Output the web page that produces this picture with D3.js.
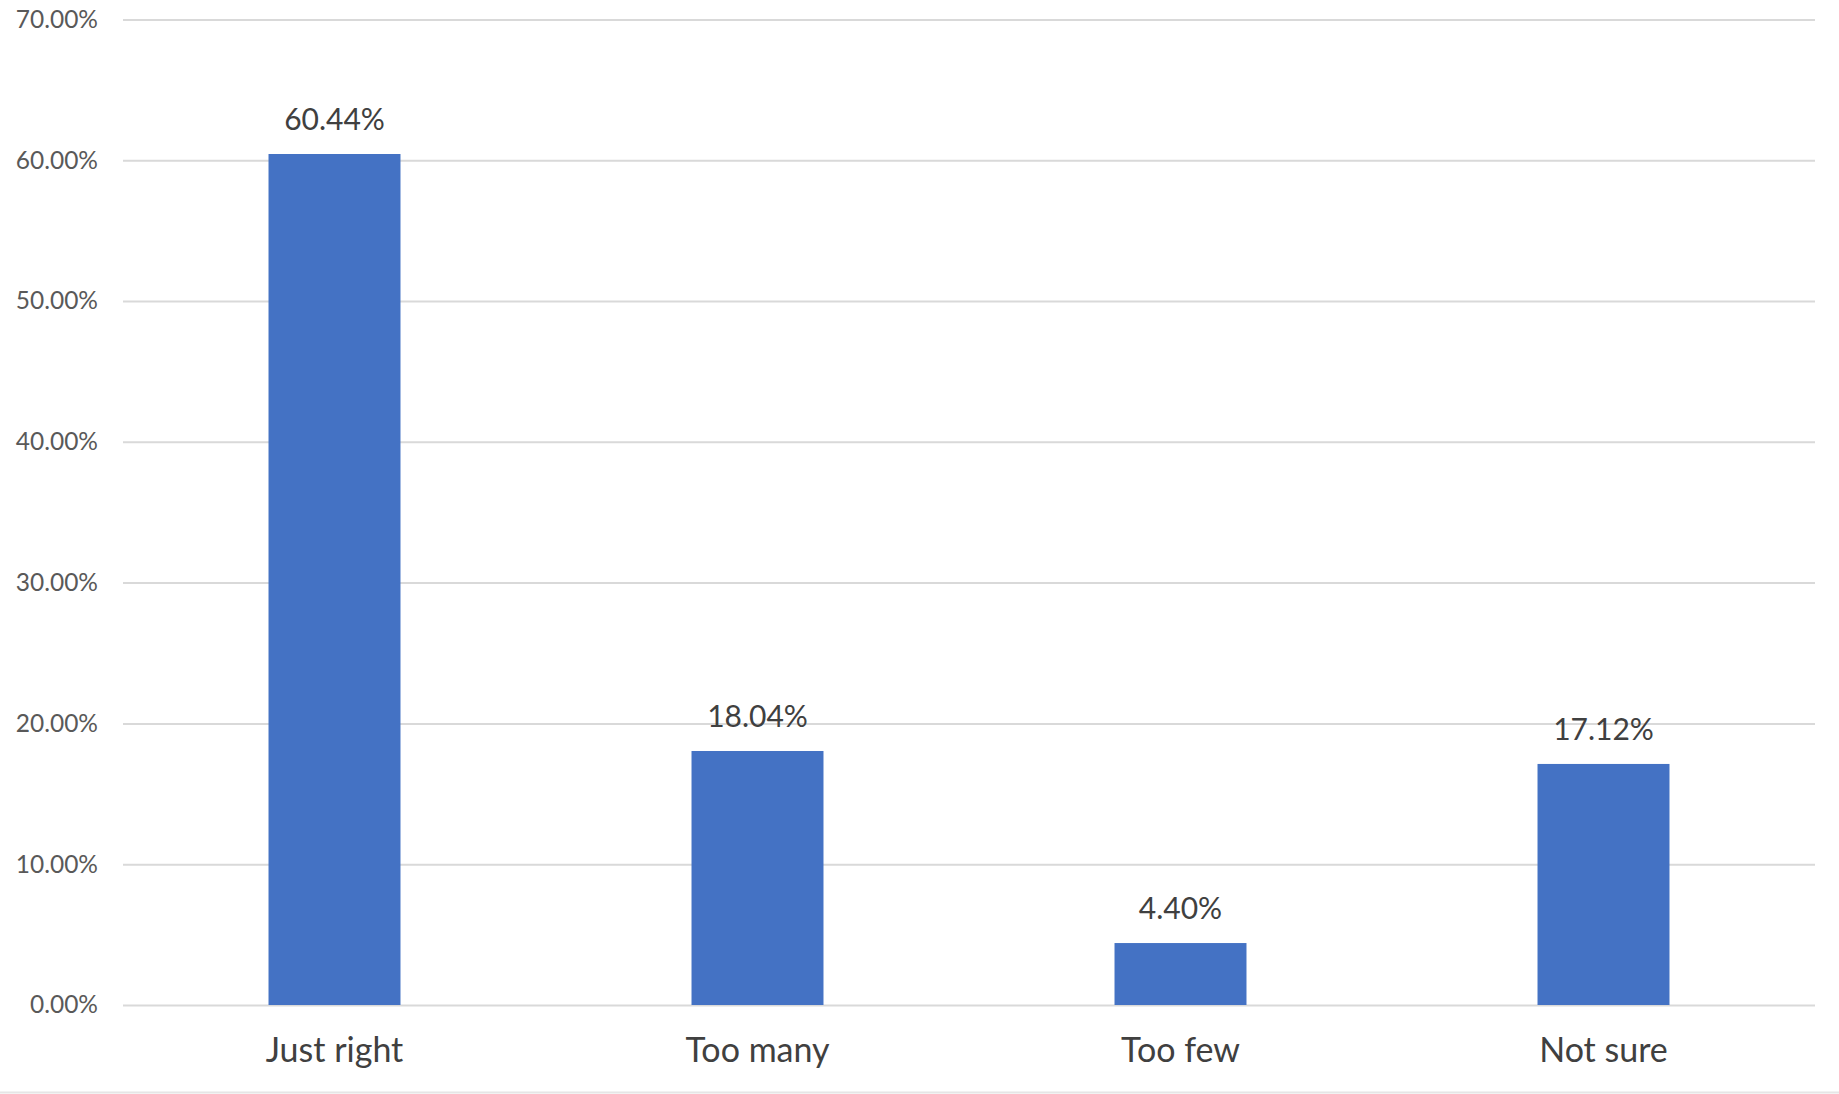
<!DOCTYPE html>
<html><head><meta charset="utf-8">
<script src="https://cdn.jsdelivr.net/npm/d3@7"></script>
<style>body{margin:0;background:#fff}svg{display:block}</style>
</head><body>
<script>
const categories = ["Just right", "Too many", "Too few", "Not sure"];
const values = [60.44, 18.04, 4.40, 17.12];
const yTicks = [0, 10, 20, 30, 40, 50, 60, 70];

const W = 1839, H = 1094;
const m = {left: 123, right: 24, top: 19.4, bottom: 89};
const svg = d3.select("body").append("svg").attr("width", W).attr("height", H);

const x = d3.scaleBand().domain(categories).range([m.left, W - m.right]).paddingInner(0.688).paddingOuter(0.344);
const y = d3.scaleLinear().domain([0, 70]).range([H - m.bottom, m.top]);

const yAxis = svg.append("g").attr("transform", `translate(${m.left},0)`)
  .call(d3.axisLeft(y).tickValues(yTicks).tickSize(-(W - m.left - m.right)).tickPadding(25).tickFormat(d => d.toFixed(2) + "%"));
yAxis.select(".domain").remove();
yAxis.selectAll("line").attr("stroke", "#d9d9d9").attr("stroke-width", 2);
yAxis.selectAll("text").attr("fill", "#595959").style("font-family", "Lato, sans-serif").style("font-size", "24.5px");

svg.selectAll("rect.bar").data(values).join("rect").attr("class", "bar")
  .attr("x", (d, i) => x(categories[i])).attr("width", x.bandwidth())
  .attr("y", d => y(d)).attr("height", d => y(0) - y(d)).attr("fill", "#4472c4");

svg.selectAll("text.val").data(values).join("text").attr("class", "val")
  .attr("x", (d, i) => x(categories[i]) + x.bandwidth() / 2).attr("y", d => y(d) - 24)
  .attr("text-anchor", "middle").attr("fill", "#404040")
  .style("font-family", "Lato, sans-serif").style("font-size", "30px")
  .text(d => d.toFixed(2) + "%");

const xAxis = svg.append("g").attr("transform", `translate(0,${y(0)})`)
  .call(d3.axisBottom(x).tickSize(0).tickPadding(33));
xAxis.select(".domain").remove();
xAxis.selectAll("text").attr("fill", "#404040").style("font-family", "Lato, sans-serif").style("font-size", "34px");

svg.append("line").attr("x1", 0).attr("x2", W).attr("y1", H - 1.5).attr("y2", H - 1.5).attr("stroke", "#e6e6e6").attr("stroke-width", 2);
</script>
</body></html>
